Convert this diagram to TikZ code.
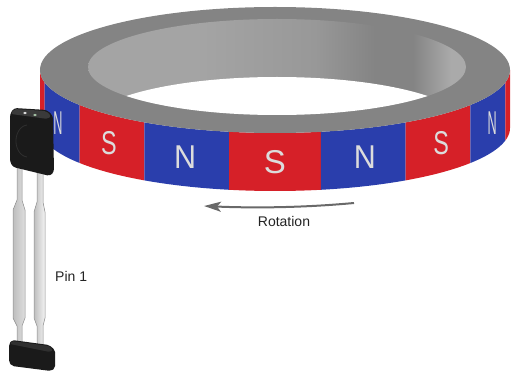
\documentclass[tikz,border=0pt]{standalone}
\usepackage{fontspec}
\setmainfont{Liberation Sans}
\usetikzlibrary{arrows.meta}

\definecolor{rimgray}{RGB}{132,132,132}
\definecolor{wallA}{RGB}{164,164,164}
\definecolor{wallB}{RGB}{152,152,152}
\definecolor{wallC}{RGB}{132,132,132}
\definecolor{wallD}{RGB}{170,170,170}
\definecolor{polered}{RGB}{214,32,40}
\definecolor{poleblue}{RGB}{42,62,172}
\definecolor{poletext}{RGB}{220,220,220}
\definecolor{arrowgray}{RGB}{105,105,105}
\definecolor{bodyblack}{RGB}{26,26,26}
\definecolor{bodytop}{RGB}{58,58,58}
\definecolor{leadA}{RGB}{190,190,190}
\definecolor{leadB}{RGB}{222,222,222}
\definecolor{leadC}{RGB}{244,244,244}
\definecolor{leadedge}{RGB}{140,140,140}
\definecolor{labeltext}{RGB}{35,35,35}

% inner wall of the ring, darker towards the right
\pgfdeclarehorizontalshading{innerwall}{100bp}{color(0bp)=(wallA); color(25bp)=(wallA); color(40bp)=(wallA); color(55bp)=(wallB); color(63bp)=(wallC); color(68bp)=(wallC); color(73bp)=(wallD); color(100bp)=(wallD)}

\tikzset{
  poleletter/.style={text=poletext, inner sep=0pt, font=\fontsize{33}{33}\selectfont},
  lbl/.style={text=labeltext, inner sep=0pt, font=\fontsize{14}{14}\selectfont},
  rotarrow/.style={draw=arrowgray, line width=2pt, -{Stealth[length=17pt,width=10pt,inset=4pt]}},
  leadpin/.style={draw=leadedge, line width=0.5pt},
}

\begin{document}
\begin{tikzpicture}[x=1pt,y=-1pt]
\useasboundingbox (0,0) rectangle (511,374);

% ---- magnetised band around the ring (front half) ----
\foreach \k in {0,...,8}{
  \pgfmathsetmacro\pa{max(0,22.5*\k-11.25)}
  \pgfmathsetmacro\pb{min(180,22.5*\k+11.25)}
  \pgfmathtruncatemacro\odd{mod(\k,2)}
  \ifnum\odd=1 \def\segcol{poleblue}\else\def\segcol{polered}\fi
  \fill[\segcol] plot[domain=\pa:\pb,samples=25,variable=\t] ({275-235*cos(\t)},{70+63*sin(\t)})
     -- plot[domain=\pb:\pa,samples=25,variable=\t] ({275-235*cos(\t)},{128+63*sin(\t)}) -- cycle;
}

% ---- top face of the ring ----
\fill[rimgray] (275,70) ellipse [x radius=235, y radius=63];
\shade[shading=innerwall] (277,67) ellipse [x radius=189, y radius=48];
\begin{scope}
  \clip (277,67) ellipse [x radius=189, y radius=48];
  \fill[white] (277,125) ellipse [x radius=189, y radius=48];
\end{scope}

% ---- pole letters ----
\foreach \k/\L in {1/N,2/S,3/N,4/S,5/N,6/S,7/N}{
  \pgfmathsetmacro\ph{22.5*\k}
  \pgfmathsetmacro\sx{sin(\ph)}
  \node[poleletter, xscale=\sx] (pole\k) at ({275-235*cos(\ph)},{99+63*sin(\ph)}) {\L};
}

% ---- rotation arrow ----
\coordinate (rotA) at (354,203);
\coordinate (rotB) at (204,206);
\draw[rotarrow] (rotA) .. controls (300,208) and (250,208) .. (rotB);
\node[lbl] (rot) at (284,221) {Rotation};

% ---- sensor leads ----
\path[leadpin, left color=leadA, right color=leadB]
  (17,165) -- (22,165) -- (22,200) -- (25,210) -- (25,318) -- (22,326) -- (22,346)
  -- (17,346) -- (17,326) -- (13,318) -- (13,210) -- (17,200) -- cycle;
\path[leadpin, left color=leadA, right color=leadC]
  (37,170) -- (43,170) -- (43,202) -- (45,212) -- (45,318) -- (43,326) -- (43,352)
  -- (37,352) -- (37,326) -- (34,318) -- (34,212) -- (37,202) -- cycle;

% ---- sensor body ----
\fill[bodyblack, rounded corners=3pt]
  (10,114) -- (14,108) -- (47,110) -- (53,116) -- (54,172) -- (50,176) -- (13,167) -- (10,162) -- cycle;
\fill[bodytop, rounded corners=2pt]
  (11,114) -- (14,109) -- (46,111) -- (51,116) -- (48,119) -- cycle;
\fill[white!85!gray] (25,113) ellipse [x radius=1.8, y radius=1.2];
\fill[white!80!green!60!gray] (35,115) ellipse [x radius=1.8, y radius=1.2];
% moulded dimple on the front face
\draw[white!9!bodyblack, line width=0.8pt]
  plot[domain=95:265,samples=30,variable=\t] ({28+12*cos(\t)},{141+16*sin(\t)});

% ---- lead holder at the bottom ----
\fill[bodyblack, rounded corners=2pt]
  (9,344) -- (12,340) -- (49,345) -- (55,350) -- (55,368) -- (51,371) -- (12,366) -- (9,362) -- cycle;
\fill[bodytop!70!bodyblack, rounded corners=1.5pt]
  (10,344) -- (12,341) -- (49,346) -- (53,350) -- (50,352) -- cycle;

\node[lbl, anchor=west] (pin1) at (55,276) {Pin 1};
\end{tikzpicture}
\end{document}
